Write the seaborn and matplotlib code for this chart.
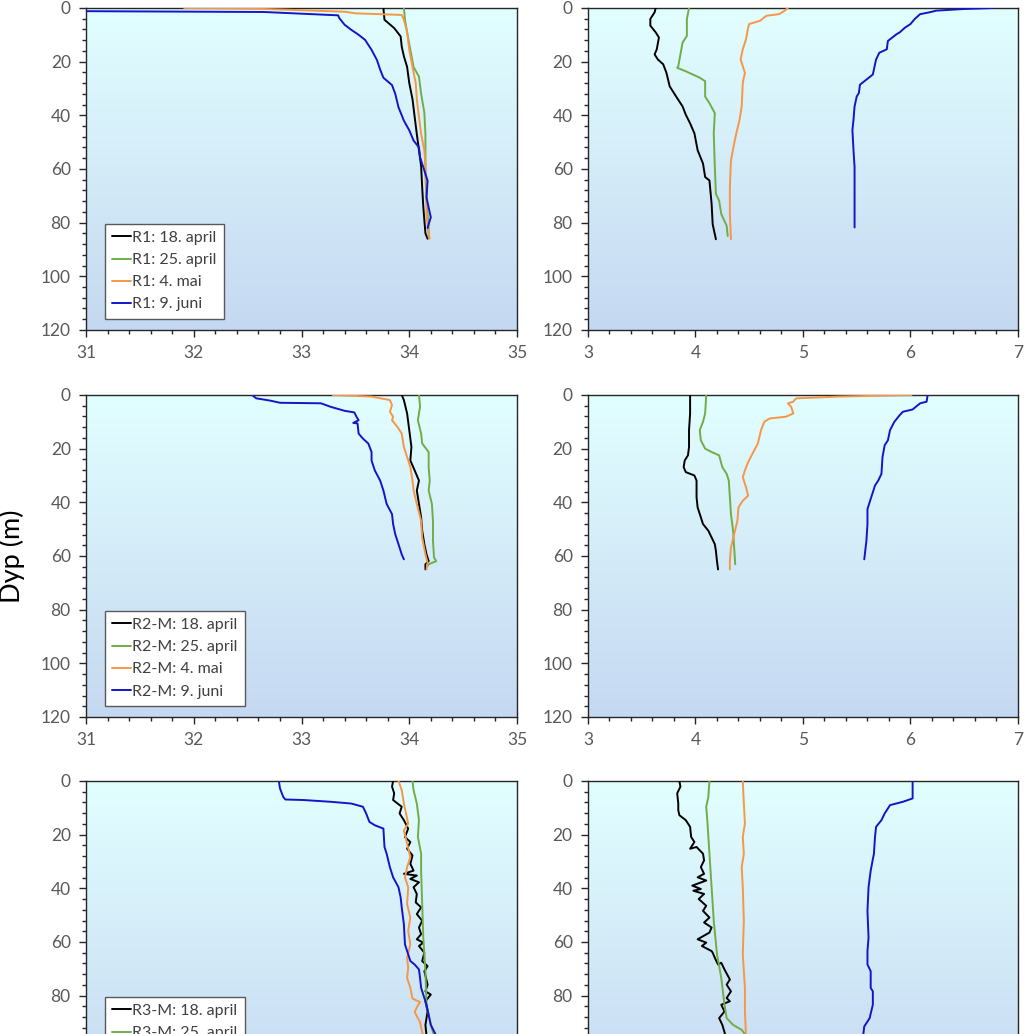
import matplotlib
matplotlib.use("Agg")
import matplotlib.pyplot as plt
from matplotlib.colors import LinearSegmentedColormap
from matplotlib.ticker import MultipleLocator
import seaborn as sns
import numpy as np

# dates / colours of the four CTD casts
DATES = ["18. april", "25. april", "4. mai", "9. juni"]
STATIONS = ["R1", "R2-M", "R3-M"]
COLORS = ["#000000", "#70AD47", "#F79646", "#1414C8"]

# ---------------- R1 salinity ----------------
R1_SAL_18A = [33.76, 33.77, 33.86, 33.92, 33.93, 33.95, 33.98, 34.00, 34.03, 34.05, 34.07, 34.09, 34.11, 34.12, 34.13, 34.14, 34.15, 34.17]
R1_SAL_18A_D = [0, 4.4, 7.5, 10.6, 14.4, 18, 22, 28, 34, 40.6, 47, 53, 59, 67, 74, 79, 84, 86]
R1_SAL_25A = [33.95, 33.96, 33.98, 34.01, 34.04, 34.09, 34.11, 34.14, 34.15, 34.15, 34.15, 34.16, 34.18, 34.18]
R1_SAL_25A_D = [0, 4.4, 9, 15.6, 22, 25.6, 32, 39, 47, 53, 62, 72, 82, 85.6]
R1_SAL_4M = [31.91, 32.6, 33.4, 33.5, 33.93, 33.95, 33.98, 34.0, 34.03, 34.06, 34.07, 34.09, 34.11, 34.14, 34.15, 34.16, 34.16, 34.18, 34.19]
R1_SAL_4M_D = [0, 0.3, 1.4, 2.0, 2.6, 4.4, 9, 15.6, 22, 28, 34, 40.6, 47, 53, 59, 67, 77, 84, 86]
R1_SAL_9J = [31.0, 32.65, 33.34, 33.35, 33.40, 33.46, 33.53, 33.59, 33.65, 33.70, 33.73, 33.76, 33.84, 33.87, 33.90, 33.95, 34.00, 34.04, 34.09, 34.10, 34.14, 34.17, 34.16, 34.18, 34.20, 34.18, 34.17]
R1_SAL_9J_D = [1.2, 1.5, 2.75, 3.75, 6.25, 8.1, 10, 11.9, 15.6, 19.4, 23, 26, 28.75, 32, 37, 42, 45.6, 49.4, 52, 55.6, 60.6, 64.4, 70.6, 74.4, 78, 80.6, 82]

# ---------------- R1 temperature ----------------
R1_TMP_18A = [3.63, 3.62, 3.58, 3.58, 3.63, 3.66, 3.64, 3.62, 3.65, 3.70, 3.73, 3.76, 3.82, 3.88, 3.91, 3.95, 3.99, 4.02, 4.07, 4.09, 4.13, 4.15, 4.16, 4.19]
R1_TMP_18A_D = [0, 1.6, 4.1, 6.6, 9.1, 11, 15.4, 17.3, 19.2, 21, 24.2, 29.2, 33, 36.7, 39.8, 43, 46.7, 53, 58, 63, 64.3, 73, 80.6, 86.2]
R1_TMP_25A = [3.94, 3.92, 3.92, 3.88, 3.84, 3.83, 3.91, 4.04, 4.09, 4.09, 4.13, 4.18, 4.17, 4.18, 4.19, 4.22, 4.24, 4.29, 4.30]
R1_TMP_25A_D = [0, 4.1, 10.4, 12.9, 21.7, 22.3, 23.6, 26, 27.3, 33, 35.5, 39.2, 46.7, 59.3, 69.3, 71.8, 76.8, 81.2, 85]
R1_TMP_4M = [4.86, 4.83, 4.78, 4.66, 4.60, 4.50, 4.49, 4.47, 4.44, 4.42, 4.44, 4.46, 4.44, 4.43, 4.41, 4.38, 4.36, 4.33, 4.32, 4.32, 4.33]
R1_TMP_4M_D = [0, 1, 2.3, 2.9, 4.8, 6, 7.3, 11.7, 15.4, 19.2, 21.7, 24.2, 27.9, 36.7, 41.7, 46.7, 50.5, 56.8, 66.8, 76.8, 86.2]
R1_TMP_9J = [6.78, 6.49, 6.24, 6.18, 6.09, 6.04, 6.00, 5.95, 5.90, 5.87, 5.79, 5.78, 5.71, 5.68, 5.65, 5.59, 5.53, 5.52, 5.50, 5.48, 5.47, 5.46, 5.47, 5.48, 5.48, 5.48]
R1_TMP_9J_D = [0, 0.4, 1, 1.6, 2.3, 4.1, 6, 7.3, 9.1, 9.8, 12.3, 15.4, 16.7, 19.2, 24.8, 26.7, 28.6, 31.7, 33, 36.7, 41.7, 45.5, 53, 59.3, 71.8, 81.8]

# ---------------- R2-M salinity ----------------
R2_SAL_18A = [33.93, 33.95, 33.98, 34.00, 34.02, 34.01, 34.05, 34.09, 34.07, 34.09, 34.11, 34.12, 34.14, 34.16, 34.18, 34.15, 34.15]
R2_SAL_18A_D = [0, 1.9, 6.9, 13.1, 19.4, 24.4, 28.1, 31.9, 35.6, 40.6, 45.6, 50.6, 55.6, 59.4, 61.9, 63.1, 65]
R2_SAL_25A = [34.09, 34.10, 34.08, 34.11, 34.12, 34.18, 34.18, 34.19, 34.18, 34.21, 34.22, 34.22, 34.23, 34.25, 34.18, 34.17]
R2_SAL_25A_D = [0, 4.4, 9.4, 14.4, 18.1, 21.25, 26.9, 31.9, 35.6, 40.6, 46.9, 54.4, 60.6, 61.9, 63.1, 63.75]
R2_SAL_4M = [33.29, 33.65, 33.82, 33.84, 33.82, 33.85, 33.84, 33.89, 33.93, 33.95, 33.98, 34.01, 34.03, 34.04, 34.07, 34.11, 34.12, 34.15, 34.17, 34.16]
R2_SAL_4M_D = [0, 0.6, 1.9, 3.75, 6.25, 8.1, 9.4, 11.9, 14.4, 19.4, 23.1, 26.9, 31.9, 35.6, 40.6, 46.9, 53.1, 59.4, 62.5, 65]
R2_SAL_9J = [32.54, 32.58, 32.71, 32.80, 33.18, 33.27, 33.40, 33.49, 33.51, 33.53, 33.48, 33.52, 33.53, 33.57, 33.62, 33.65, 33.65, 33.68, 33.73, 33.76, 33.79, 33.84, 33.85, 33.87, 33.90, 33.93, 33.95]
R2_SAL_9J_D = [0, 1.25, 2.1, 2.9, 3.1, 4.4, 5.9, 6.5, 8.1, 9.4, 10.4, 10.6, 14.4, 16.25, 18.1, 21.25, 24.4, 28.1, 31.9, 35.6, 40.6, 44.4, 48.1, 51.9, 55.6, 59.4, 61.25]

# ---------------- R2-M temperature ----------------
R2_TMP_18A = [3.95, 3.95, 3.94, 3.94, 3.93, 3.90, 3.89, 3.91, 3.99, 4.01, 4.01, 4.02, 4.05, 4.07, 4.12, 4.15, 4.18, 4.19, 4.20, 4.21]
R2_TMP_18A_D = [0, 6.9, 13.1, 19.4, 22.5, 24.4, 26.9, 28.75, 30, 31.9, 38.1, 41.9, 45.6, 48.1, 50.6, 53.1, 55.6, 58.1, 61.9, 65]
R2_TMP_25A = [4.10, 4.09, 4.07, 4.04, 4.05, 4.09, 4.15, 4.22, 4.25, 4.29, 4.31, 4.32, 4.33, 4.35, 4.36, 4.37]
R2_TMP_25A_D = [0, 6.9, 10, 13.1, 16.9, 20, 21.25, 22.5, 26.9, 29.4, 31.9, 38.1, 44.4, 50.6, 56.9, 63.1]
R2_TMP_4M = [6.01, 5.33, 4.94, 4.92, 4.91, 4.86, 4.89, 4.91, 4.84, 4.69, 4.64, 4.61, 4.58, 4.53, 4.49, 4.46, 4.44, 4.47, 4.49, 4.44, 4.40, 4.39, 4.36, 4.33, 4.32, 4.32]
R2_TMP_4M_D = [0, 0.6, 1.25, 1.9, 2.5, 3.1, 4.4, 6.9, 8.1, 8.75, 10, 13.1, 18.1, 21.9, 25, 28.1, 30.6, 34.4, 37.5, 39.4, 41.9, 46.9, 51.9, 56.9, 61.9, 65]
R2_TMP_9J = [6.16, 6.15, 6.09, 6.05, 6.02, 5.93, 5.90, 5.85, 5.81, 5.79, 5.76, 5.74, 5.73, 5.70, 5.67, 5.64, 5.60, 5.60, 5.59, 5.57]
R2_TMP_9J_D = [0, 2.5, 3.1, 4.4, 5.4, 6.25, 7.5, 10, 13.1, 16.9, 18.75, 23.1, 29.4, 31.9, 33.75, 37.5, 42.5, 48.1, 54.4, 61.25]

# ---------------- R3-M salinity ----------------
R3_SAL_18A = [33.85, 33.84, 33.86, 33.85, 33.93, 33.91, 33.95, 33.99, 33.96, 34.01, 33.98, 34.03, 34.01, 34.04, 33.95, 34.07, 34.01, 34.09, 34.04, 34.07,
              34.06, 34.11, 34.07, 34.12, 34.09, 34.11, 34.07, 34.13, 34.09, 34.14, 34.12, 34.17, 34.14, 34.17, 34.15, 34.20, 34.15, 34.17, 34.15, 34.16]
R3_SAL_18A_D = [0, 2.1, 4.6, 7.1, 9.6, 12.1, 14.6, 17.75, 20.9, 22.75, 25.25, 27.75, 30.9, 33.4, 34.6, 35.25, 36.5, 37.75, 39.6, 42.1,
                45.25, 47.1, 49.6, 52.1, 54.6, 57.1, 59.0, 60.25, 61.5, 64.0, 67.1, 69.0, 70.9, 75.9, 78.4, 79.6, 82.1, 85.9, 90.9, 95]
R3_SAL_25A = [34.03, 34.04, 34.07, 34.09, 34.08, 34.11, 34.11, 34.12, 34.13, 34.15, 34.16, 34.20, 34.23, 34.26]
R3_SAL_25A_D = [0, 3.4, 8.4, 14.6, 20.9, 27.1, 33.4, 45.9, 58.4, 70.9, 83.4, 90.9, 94.9, 100]
R3_SAL_4M = [33.90, 33.93, 33.95, 33.97, 33.99, 33.95, 33.98, 34.01, 33.98, 33.96, 33.99, 33.98, 34.01, 33.99, 34.01, 33.98, 33.99, 33.98, 34.01, 34.03, 34.10, 34.08, 34.05, 34.10, 34.12, 34.15]
R3_SAL_4M_D = [0, 3.4, 8.4, 12.1, 15.9, 18.4, 23.4, 28.4, 32.1, 35.9, 39.6, 45.9, 50.9, 55.9, 60.9, 65.9, 69.6, 73.4, 77.1, 81.1, 82.4, 83.6, 86.1, 89.9, 93.6, 98]
R3_SAL_9J = [32.79, 32.80, 32.83, 32.85, 33.02, 33.27, 33.46, 33.57, 33.60, 33.63, 33.68, 33.76, 33.77, 33.79, 33.82, 33.85, 33.90, 33.92, 33.93, 33.95, 33.96,
             33.99, 34.01, 34.05, 34.09, 34.10, 34.11, 34.16, 34.20, 34.25, 34.28]
R3_SAL_9J_D = [0, 2.75, 5.9, 6.9, 7.1, 7.75, 8.4, 9.6, 12.1, 15.25, 16.5, 17.75, 24.6, 27.1, 32.1, 35.9, 39.6, 43.4, 47.1, 53.4, 60.9,
               64.6, 67.1, 68.4, 70.25, 73.4, 77.1, 83.4, 90.9, 94.9, 99]

# ---------------- R3-M temperature ----------------
R3_TMP_18A = [3.85, 3.86, 3.83, 3.84, 3.84, 3.85, 3.91, 3.95, 3.96, 3.99, 3.95, 4.01, 4.07, 4.08, 4.05, 4.08, 4.02, 4.10, 3.97, 4.05, 3.98, 4.08, 4.03, 4.10,
              4.07, 4.13, 4.08, 4.15, 4.13, 4.02, 4.10, 4.06, 4.15, 4.16, 4.18, 4.21, 4.24, 4.27, 4.32, 4.29, 4.33, 4.29, 4.32, 4.24, 4.27, 4.22, 4.25, 4.28]
R3_TMP_18A_D = [0, 2.1, 4.6, 8.4, 10.9, 12.75, 14.6, 17.1, 20.9, 22.75, 25.25, 24.6, 27.1, 29.6, 32.1, 34.6, 35.9, 37.1, 39.0, 40.25, 40.9, 42.1, 44.0, 46.5,
                48.4, 50.9, 52.75, 54.6, 56.5, 59.0, 60.25, 61.5, 63.4, 64.0, 65.9, 68.4, 67.75, 70.25, 74.0, 75.9, 78.4, 80.9, 82.1, 83.4, 85.9, 88.4, 90.9, 95]
R3_TMP_25A = [4.13, 4.12, 4.10, 4.11, 4.13, 4.15, 4.17, 4.20, 4.24, 4.27, 4.29, 4.35, 4.43, 4.47, 4.49]
R3_TMP_25A_D = [0, 5.9, 9.6, 14.6, 27.1, 39.6, 52.1, 64.6, 73.4, 83.4, 88.4, 90.9, 92.75, 94.9, 97]
R3_TMP_4M = [4.44, 4.45, 4.46, 4.44, 4.45, 4.43, 4.44, 4.45, 4.44, 4.46, 4.46, 4.47, 4.47]
R3_TMP_4M_D = [0, 8.4, 15.9, 20.9, 27.1, 32.1, 39.6, 52.1, 64.6, 77.1, 85.9, 94.9, 98]
R3_TMP_9J = [6.02, 6.02, 5.93, 5.81, 5.76, 5.73, 5.68, 5.67, 5.66, 5.63, 5.61, 5.60, 5.61, 5.60, 5.60, 5.63, 5.63, 5.65, 5.65, 5.62, 5.57, 5.56, 5.55]
R3_TMP_9J_D = [0, 6.5, 7.75, 9, 12.1, 14.6, 17.1, 20.9, 27.1, 33.4, 39.6, 48.4, 58.4, 63.4, 68.4, 70.9, 77.1, 78.4, 83.4, 88.4, 91.5, 94.9, 98]

SALINITY = {
    "R1": [(R1_SAL_18A, R1_SAL_18A_D), (R1_SAL_25A, R1_SAL_25A_D), (R1_SAL_4M, R1_SAL_4M_D), (R1_SAL_9J, R1_SAL_9J_D)],
    "R2-M": [(R2_SAL_18A, R2_SAL_18A_D), (R2_SAL_25A, R2_SAL_25A_D), (R2_SAL_4M, R2_SAL_4M_D), (R2_SAL_9J, R2_SAL_9J_D)],
    "R3-M": [(R3_SAL_18A, R3_SAL_18A_D), (R3_SAL_25A, R3_SAL_25A_D), (R3_SAL_4M, R3_SAL_4M_D), (R3_SAL_9J, R3_SAL_9J_D)],
}
TEMPERATURE = {
    "R1": [(R1_TMP_18A, R1_TMP_18A_D), (R1_TMP_25A, R1_TMP_25A_D), (R1_TMP_4M, R1_TMP_4M_D), (R1_TMP_9J, R1_TMP_9J_D)],
    "R2-M": [(R2_TMP_18A, R2_TMP_18A_D), (R2_TMP_25A, R2_TMP_25A_D), (R2_TMP_4M, R2_TMP_4M_D), (R2_TMP_9J, R2_TMP_9J_D)],
    "R3-M": [(R3_TMP_18A, R3_TMP_18A_D), (R3_TMP_25A, R3_TMP_25A_D), (R3_TMP_4M, R3_TMP_4M_D), (R3_TMP_9J, R3_TMP_9J_D)],
}

sns.set_style("ticks")
plt.rcParams["font.family"] = ["Lato", "DejaVu Sans"]

fig = plt.figure(figsize=(10.24, 10.34), dpi=100)

# light cyan at the surface fading to pale blue at depth
bg_cmap = LinearSegmentedColormap.from_list("bg", ["#E2FFFF", "#C5D8F1"])
grad = np.linspace(0, 1, 256).reshape(-1, 1)

col_left = [0.0840, 0.5742]
col_width = [0.4209, 0.4199]
row_bottom = [0.6809, 0.3066, -0.0667]
row_height = 0.3114


def style_axis(ax, xlim, xmin_step):
    ax.imshow(grad, extent=[0, 1, 0, 1], origin="upper", transform=ax.transAxes,
              aspect="auto", cmap=bg_cmap, zorder=0, interpolation="bilinear")
    ax.set_xlim(*xlim)
    ax.set_ylim(120, 0)
    ax.xaxis.set_major_locator(MultipleLocator(1))
    ax.xaxis.set_minor_locator(MultipleLocator(xmin_step))
    ax.yaxis.set_major_locator(MultipleLocator(20))
    ax.yaxis.set_minor_locator(MultipleLocator(4))
    ax.tick_params(which="major", length=5, width=1, color="#262626",
                   labelsize=12.5, labelcolor="#595959", pad=6)
    ax.tick_params(which="minor", length=3, width=1, color="#262626")
    for sp in ax.spines.values():
        sp.set_color("#262626")
        sp.set_linewidth(1)
    ax.set_xlabel("")
    ax.set_ylabel("")


for r, st in enumerate(STATIONS):
    # salinity panel
    ax = fig.add_axes([col_left[0], row_bottom[r], col_width[0], row_height])
    for i, (vals, depth) in enumerate(SALINITY[st]):
        sns.lineplot(x=vals, y=depth, sort=False, estimator=None, color=COLORS[i],
                     lw=1.4, ax=ax, label=f"{st}: {DATES[i]}", zorder=3)
    style_axis(ax, (31, 35), 0.2)
    leg = ax.legend(loc="lower left", bbox_to_anchor=(0.044, 0.035), borderaxespad=0,
                    fontsize=11.5, handlelength=1.2, handletextpad=0.05,
                    labelspacing=0.5, borderpad=0.45, fancybox=False, framealpha=1)
    leg.get_frame().set_edgecolor("#595959")
    leg.get_frame().set_linewidth(1)
    for t in leg.get_texts():
        t.set_color("#404040")

    # temperature panel
    ax = fig.add_axes([col_left[1], row_bottom[r], col_width[1], row_height])
    for i, (vals, depth) in enumerate(TEMPERATURE[st]):
        sns.lineplot(x=vals, y=depth, sort=False, estimator=None, color=COLORS[i],
                     lw=1.4, ax=ax, legend=False, zorder=3)
    style_axis(ax, (3, 7), 0.2)

fig.text(0.012, 0.462, "Dyp (m)", rotation=90, ha="center", va="center",
         fontsize=19.5, color="#000000")

plt.savefig("out.png", dpi=100)
plt.close()
